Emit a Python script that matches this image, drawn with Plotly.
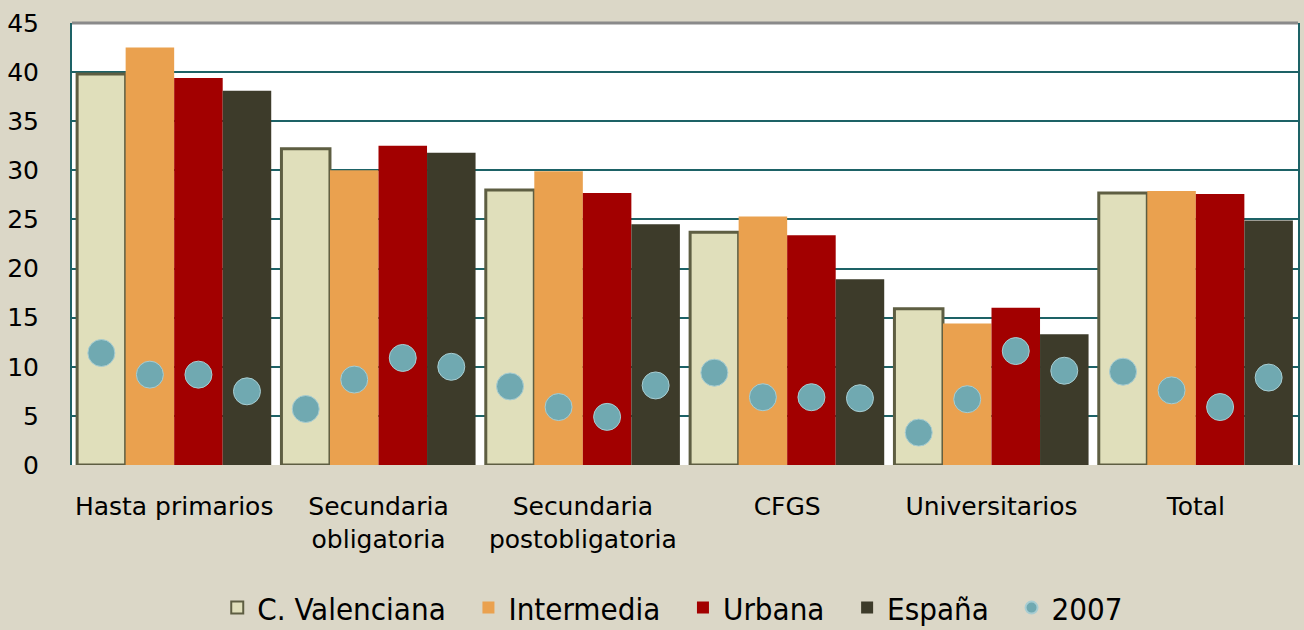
import plotly.graph_objects as go

# ── Data ───────────────────────────────────────────────────────────────────────
categories = ["Hasta primarios", "Secundaria<br>obligatoria", "Secundaria<br>postobligatoria",
              "CFGS", "Universitarios", "Total"]

series_names = ["C. Valenciana", "Intermedia", "Urbana", "España"]

c_valenciana = [39.8, 32.2, 28.0, 23.7, 15.9, 27.7]
intermedia   = [42.5, 30.0, 29.9, 25.3, 14.4, 27.9]
urbana       = [39.4, 32.5, 27.7, 23.4, 16.0, 27.6]
espana       = [38.1, 31.8, 24.5, 18.9, 13.3, 24.9]

# 2007 values, one per bar (same order as series)
y2007_c_valenciana = [11.4, 5.7, 8.0, 9.4, 3.3, 9.5]
y2007_intermedia   = [9.2, 8.7, 5.9, 6.9, 6.7, 7.6]
y2007_urbana       = [9.2, 10.9, 4.9, 6.9, 11.6, 5.9]
y2007_espana       = [7.5, 10.0, 8.1, 6.8, 9.6, 8.9]

y_ticks = [0, 5, 10, 15, 20, 25, 30, 35, 40, 45]

# ── Style ──────────────────────────────────────────────────────────────────────
BAR_COLORS = ["#e0dfbb", "#eaa14f", "#a20000", "#3d3b2a"]
BAR_LINES  = ["#5e5e42", None, None, None]
DOT_COLOR  = "#70a9b1"
TEAL       = "#1d6266"
PAPER      = "#dbd7c7"
FONT       = "DejaVu Sans, Verdana, sans-serif"
PAD        = "\u00a0\u00a0"   # extra room between legend entries

fig = go.Figure()

bar_values = [c_valenciana, intermedia, urbana, espana]
for i, (name, vals) in enumerate(zip(series_names, bar_values)):
    line = dict(color=BAR_LINES[i], width=3) if BAR_LINES[i] else dict(width=0)
    fig.add_trace(go.Bar(
        name=name + PAD, x=categories, y=vals,
        marker=dict(color=BAR_COLORS[i], line=line),
        offsetgroup=str(i),
    ))

dot_values = [y2007_c_valenciana, y2007_intermedia, y2007_urbana, y2007_espana]
for i, vals in enumerate(dot_values):
    fig.add_trace(go.Scatter(
        name="2007", x=categories, y=vals,
        mode="markers",
        marker=dict(color=DOT_COLOR, size=27, line=dict(color="#a8cdd2", width=1)),
        offsetgroup=str(i),
        legendgroup="2007",
        showlegend=(i == 0),
    ))

fig.update_layout(
    barmode="group",
    scattermode="group",
    bargap=0.05,
    bargroupgap=0,
    scattergap=0.05,
    width=1304, height=630,
    margin=dict(l=72, r=6, t=23, b=165, autoexpand=False),
    paper_bgcolor=PAPER,
    plot_bgcolor="white",
    font=dict(family=FONT, size=25, color="black"),
    xaxis=dict(
        showgrid=False, ticks="", tickfont=dict(size=25),
        showline=False, ticklabelstandoff=24,
    ),
    yaxis=dict(
        range=[0, 45], tickvals=y_ticks,
        showgrid=True, gridcolor=TEAL, gridwidth=2,
        showline=True, linecolor=TEAL, linewidth=2, mirror=True,
        ticks="", tickfont=dict(size=25), zeroline=False,
        ticklabelstandoff=26,
    ),
    legend=dict(
        orientation="h", x=0.49, xanchor="center",
        yref="container", y=0.035, yanchor="middle",
        font=dict(family="Liberation Sans Narrow, DejaVu Sans Condensed, sans-serif", size=31),
        itemsizing="constant", bgcolor="rgba(0,0,0,0)",
    ),
    shapes=[dict(type="line", xref="paper", yref="paper", x0=0, x1=1, y0=1, y1=1,
                 line=dict(color="#8a8a8a", width=3))],
    showlegend=True,
)

fig.write_html("out.html", config={"displayModeBar": False},
               post_script="document.body.style.margin='0';")
